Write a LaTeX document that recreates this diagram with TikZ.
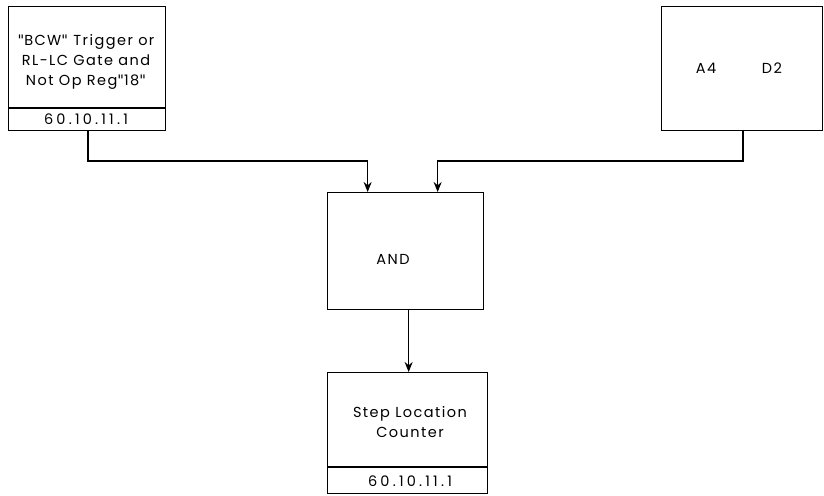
\documentclass[tikz,border=0pt]{standalone}
\usepackage{fontspec}
\setmainfont[LetterSpace=10]{Poppins}
\newfontfamily\qfont{DejaVu Sans}
\usetikzlibrary{arrows.meta}
\newcommand{\qq}{{\qfont\char34}}
\begin{document}
\begin{tikzpicture}[x=1pt,y=-1pt,
  box/.style={draw,line width=1.3pt,inner sep=0pt},
  lbl/.style={font=\fontsize{14.5}{20}\selectfont,align=center},
  ref/.style={font=\fontsize{14.5}{20}\selectfont\addfontfeatures{LetterSpace=22}},
  conn/.style={line width=1.2pt,-{Stealth[length=10pt,width=8pt]}}]
\useasboundingbox (0,0) rectangle (824,495);
% box 1
\node[box,minimum width=157pt,minimum height=124pt,anchor=north west] (b1) at (8,6) {};
\draw[line width=1.2pt] (8,108) -- (165,108);
\node[lbl] (b1t) at (86,62) {\qq BCW\qq{} Trigger or\\RL-LC Gate and\\Not Op Reg\qq 18\qq};
\node[ref] (b1r) at (86,119) {60.10.11.1};
% box 2
\node[box,minimum width=161pt,minimum height=124pt,anchor=north west] (b2) at (661,6) {};
\node[lbl] (a4) at (706,68) {A4};
\node[lbl] (d2) at (772,68) {D2};
% AND
\node[box,minimum width=156pt,minimum height=117pt,anchor=north west] (and) at (327,192) {};
\node[lbl] (andt) at (393,259) {AND};
% step
\node[box,minimum width=160pt,minimum height=121pt,anchor=north west] (st) at (327,372) {};
\draw[line width=1.2pt] (327,467) -- (487,467);
\node[lbl] (stt) at (410,422) {Step Location\\Counter};
\node[ref] (str) at (410,481) {60.10.11.1};
% connectors
\coordinate (c1) at (88,161);
\coordinate (c2) at (743,161);
\draw[conn] (b1.south -| c1) -- (c1) -| ([xshift=-38pt]and.north);
\draw[conn] (b2.south -| c2) -- (c2) -| ([xshift=32pt]and.north);
\draw[conn] ([xshift=3pt]and.south) -- ([xshift=1pt]st.north);
\end{tikzpicture}
\end{document}
